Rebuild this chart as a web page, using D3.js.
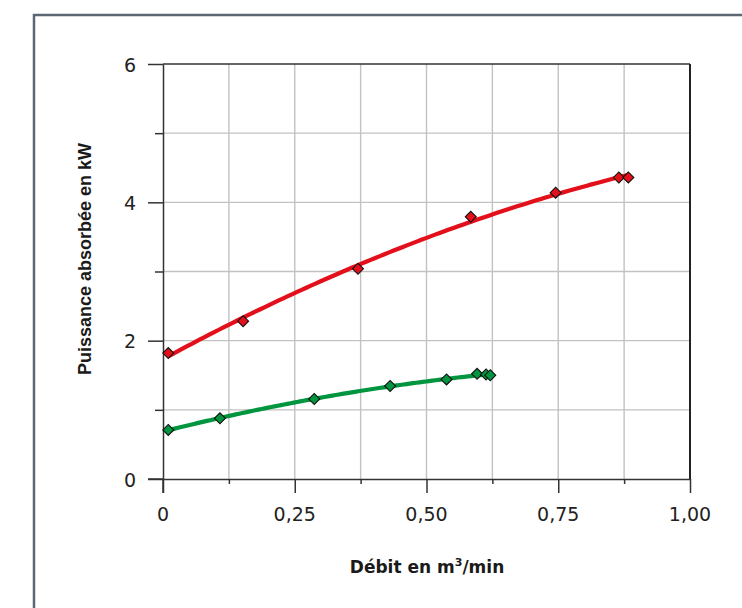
<!DOCTYPE html>
<html><head><meta charset="utf-8">
<script src="https://cdn.jsdelivr.net/npm/d3@7"></script>
<style>body{margin:0;background:#fff}svg{display:block}</style>
</head><body>
<svg id="c" width="742" height="608"></svg>
<script>
const redX = [0.01, 0.152, 0.37, 0.584, 0.745, 0.865, 0.883];
const redY = [1.82, 2.28, 3.04, 3.79, 4.14, 4.36, 4.36];
const greenX = [0.01, 0.108, 0.287, 0.431, 0.538, 0.596, 0.613, 0.621];
const greenY = [0.71, 0.877, 1.157, 1.345, 1.44, 1.52, 1.51, 1.50];
const xTicks = [0, 0.25, 0.5, 0.75, 1.0];
const xTickLabels = ["0", "0,25", "0,50", "0,75", "1,00"];
const yTicks = [0, 2, 4, 6];
const yTickLabels = ["0", "2", "4", "6"];
const xTitleMain = "Débit en m";
const xTitleSup = "3";
const xTitleEnd = "/min";
const yTitle = "Puissance absorbée en kW";

const svg = d3.select("#c");
// frame
svg.append("rect").attr("x",34).attr("y",15).attr("width",800).attr("height",700)
  .attr("fill","none").attr("stroke","#5b6873").attr("stroke-width",2.5);

const x = d3.scaleLinear().domain([0,1]).range([163,690]);
const y = d3.scaleLinear().domain([0,6]).range([479,64]);

const g = svg.append("g");
// grid
g.selectAll(".vg").data(d3.range(1,8).map(i=>i*0.125)).join("line")
  .attr("x1",d=>x(d)).attr("x2",d=>x(d)).attr("y1",y(0)).attr("y2",y(6))
  .attr("stroke","#c2c2c2").attr("stroke-width",1.4);
g.selectAll(".hg").data([1,2,3,4,5]).join("line")
  .attr("x1",x(0)).attr("x2",x(1)).attr("y1",d=>y(d)).attr("y2",d=>y(d))
  .attr("stroke","#c2c2c2").attr("stroke-width",1.4);
// borders
g.append("line").attr("x1",x(0)).attr("x2",x(1)).attr("y1",y(6)).attr("y2",y(6)).attr("stroke","#333").attr("stroke-width",1.5);
g.append("line").attr("x1",x(1)).attr("x2",x(1)).attr("y1",y(0)).attr("y2",y(6)).attr("stroke","#222").attr("stroke-width",2);

// axes
const fontTick = "'DejaVu Sans', sans-serif";
const xa = svg.append("g").attr("transform",`translate(0,${y(0)})`)
  .call(d3.axisBottom(x).tickValues(d3.range(0,9).map(i=>i*0.125)).tickSize(0).tickFormat(""));
xa.select(".domain").attr("stroke","#333").attr("stroke-width",1.5);
xa.selectAll(".tick line").remove();
xa.selectAll(".tick").append("line").attr("y1",0)
  .attr("y2",(d,i)=> i%2===0 ? 14 : 5).attr("stroke","#333").attr("stroke-width",1.5);
svg.append("line").attr("x1",148).attr("x2",x(0)).attr("y1",y(0)).attr("y2",y(0)).attr("stroke","#333").attr("stroke-width",1.5);

const ya = svg.append("g").attr("transform",`translate(${x(0)},0)`)
  .call(d3.axisLeft(y).tickValues(d3.range(0,7)).tickSize(0).tickFormat(""));
ya.select(".domain").attr("stroke","#333").attr("stroke-width",1.5);
ya.selectAll(".tick line").remove();
ya.selectAll(".tick").append("line").attr("x1",0)
  .attr("x2",(d,i)=> i%2===0 ? -15 : -8).attr("stroke","#333").attr("stroke-width",1.5);
ya.append("line").attr("x1",0).attr("x2",0).attr("y1",y(0)).attr("y2",y(0)+14).attr("stroke","#333").attr("stroke-width",1.5);

svg.selectAll(".xl").data(xTicks).join("text")
  .attr("x",d=>x(d)).attr("y",521).attr("text-anchor","middle")
  .attr("font-family",fontTick).attr("font-size",19).attr("fill","#222")
  .text((d,i)=>xTickLabels[i]);
svg.selectAll(".yl").data(yTicks).join("text")
  .attr("x",136).attr("y",d=>y(d)+7.5).attr("text-anchor","end")
  .attr("font-family",fontTick).attr("font-size",19).attr("fill","#222")
  .text((d,i)=>yTickLabels[i]);

const xt = svg.append("text").attr("x",427).attr("y",573).attr("text-anchor","middle")
  .attr("font-family","'DejaVu Sans', sans-serif").attr("font-weight","bold")
  .attr("font-size",17).attr("fill","#1a1a1a");
xt.append("tspan").text(xTitleMain);
xt.append("tspan").attr("font-size",11).attr("dy",-7).text(xTitleSup);
xt.append("tspan").attr("dy",7).text(xTitleEnd);

svg.append("text").attr("transform","translate(91,259) rotate(-90)").attr("text-anchor","middle")
  .attr("font-family","'Liberation Sans', Arial, sans-serif").attr("font-weight","bold")
  .attr("font-size",18).attr("fill","#1a1a1a").text(yTitle);

// quadratic least-squares fit
function quadFit(xs, ys){
  let S=[0,0,0,0,0], T=[0,0,0];
  xs.forEach((xv,i)=>{ for(let k=0;k<5;k++) S[k]+=Math.pow(xv,k); for(let k=0;k<3;k++) T[k]+=ys[i]*Math.pow(xv,k); });
  const A=[[S[0],S[1],S[2],T[0]],[S[1],S[2],S[3],T[1]],[S[2],S[3],S[4],T[2]]];
  for(let i=0;i<3;i++){ for(let j=i+1;j<3;j++){ const f=A[j][i]/A[i][i]; for(let k=i;k<4;k++) A[j][k]-=f*A[i][k]; } }
  const c=[0,0,0];
  for(let i=2;i>=0;i--){ let s=A[i][3]; for(let k=i+1;k<3;k++) s-=A[i][k]*c[k]; c[i]=s/A[i][i]; }
  return v=>c[0]+c[1]*v+c[2]*v*v;
}
function drawSeries(xs, ys, color){
  const f = quadFit(xs, ys);
  const x0=d3.min(xs), x1=d3.max(xs);
  const pts = d3.range(0,101).map(i=>{const v=x0+(x1-x0)*i/100; return [v,f(v)];});
  svg.append("path").datum(pts).attr("fill","none").attr("stroke",color).attr("stroke-width",4.2)
    .attr("d", d3.line().x(d=>x(d[0])).y(d=>y(d[1])));
  const sym = d3.symbol().type(d3.symbolSquare).size(60);
  svg.selectAll(null).data(xs.map((v,i)=>[v,ys[i]])).join("path")
    .attr("transform",d=>`translate(${x(d[0])},${y(d[1])}) rotate(45)`)
    .attr("d",sym).attr("fill",color).attr("stroke","#111").attr("stroke-width",1.1);
}
drawSeries(greenX, greenY, "#00953e");
drawSeries(redX, redY, "#e3101b");
</script>
</body></html>
